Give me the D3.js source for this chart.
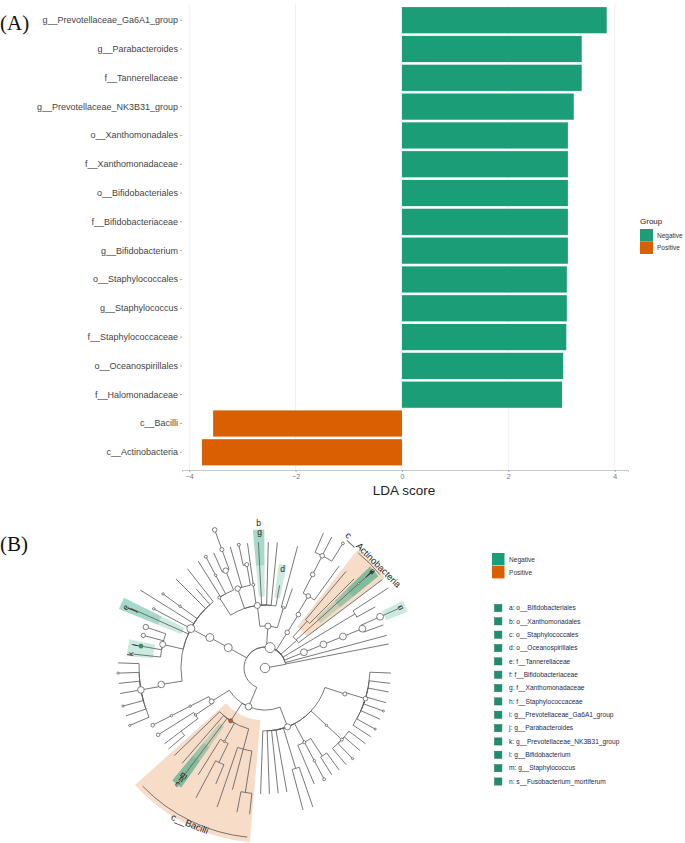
<!DOCTYPE html>
<meta charset="utf-8">
<style>
body { margin: 0; background: #fff; }
text { font-family: "Liberation Sans", Arial, sans-serif; }
.panel { font-family: "Liberation Serif", Times, serif; font-size: 21px; fill: #111; }
.tree path { fill: none; stroke: #606060; stroke-width: 0.85; }
.tree circle { stroke: #606060; stroke-width: 0.8; }
</style>
<svg width="685" height="843"></svg>
<script src="https://d3js.org/d3.v7.min.js"></script>
<script>
// bar chart values
var taxa = ["g__Prevotellaceae_Ga6A1_group", "g__Parabacteroides", "f__Tannerellaceae", "g__Prevotellaceae_NK3B31_group",
  "o__Xanthomonadales", "f__Xanthomonadaceae", "o__Bifidobacteriales", "f__Bifidobacteriaceae", "g__Bifidobacterium",
  "o__Staphylococcales", "g__Staphylococcus", "f__Staphylococcaceae", "o__Oceanospirillales", "f__Halomonadaceae",
  "c__Bacilli", "c__Actinobacteria"];
var ldaScores = [3.85, 3.38, 3.38, 3.23, 3.12, 3.12, 3.12, 3.12, 3.12, 3.10, 3.10, 3.09, 3.03, 3.01, -3.55, -3.76];
var xTicks = [-4, -2, 0, 2, 4];
var groups = ["Negative", "Positive"];
var groupColors = ["#1b9e77", "#d95f02"];

var biomarkers = ["a: o__Bifidobacteriales", "b: o__Xanthomonadales", "c: o__Staphylococcales", "d: o__Oceanospirillales",
  "e: f__Tannerellaceae", "f: f__Bifidobacteriaceae", "g: f__Xanthomonadaceae", "h: f__Staphylococcaceae",
  "i: g__Prevotellaceae_Ga6A1_group", "j: g__Parabacteroides", "k: g__Prevotellaceae_NK3B31_group",
  "l: g__Bifidobacterium", "m: g__Staphylococcus", "n: s__Fusobacterium_mortiferum"];

// cladogram: id, parent, angle (deg clockwise from north), taxonomic level, node size
var cladeRows = [
  ["root", "", 80, 0, 4.7], ["k0", "root", 80, 1, 0], ["p", "root", 14, 1, 5],
  // left clade
  ["b2", "p", 299, 2, 4], ["b3", "b2", 299, 3, 4], ["b4", "b3", 298, 4, 4],
  ["b5a", "b4", 261, 5, 3.3], ["b6a", "b5a", 260, 6, 3.3],
  ["t272", "b6a", 272, 7, 0], ["t268", "b6a", 268, 7, 1.1], ["t264", "b6a", 264, 7, 0], ["t260", "b6a", 260, 7, 0],
  ["t255", "b6a", 255, 7, 1.1], ["t251", "b6a", 251, 7, 0], ["t247", "b6a", 247, 7, 1.1],
  ["b5k", "b4", 283, 5, 3], ["k", "b5k", 276, 6.3, 0], ["l", "b5k", 280, 6, 2], ["l2", "l", 280, 6.4, 0],
  ["t285", "b5k", 285, 6, 2.1], ["t289", "b5k", 289, 6, 2.7],
  ["e", "b4", 294, 7, 0], ["t298", "b4", 298, 6, 1.2], ["t302", "b4", 302, 7, 0],
  ["b5f", "b4", 306, 5, 1.2], ["t306", "b5f", 306, 6, 1.2], ["t315", "b4", 315, 6, 0], ["t319", "b4", 319, 5, 0], ["t322", "b4", 322, 6, 0],
  // top clade
  ["u2", "p", 4, 2, 3], ["u3", "u2", 353, 3, 3], ["u3b", "u2", 17, 3, 1.3],
  ["u4a", "u3", 327, 4, 1.5], ["t328", "u4a", 328, 6, 0], ["u5c", "u4a", 332, 5, 1.2], ["t332", "u5c", 332, 6, 1.5],
  ["u5d", "u4a", 338, 5, 2.7], ["t336", "u5d", 336, 6, 0], ["u6e", "u5d", 340, 6, 2], ["t340", "u6e", 340, 7, 2.3],
  ["u4b", "u3", 341, 4, 2.7], ["t344", "u4b", 344, 6, 0], ["u5f", "u4b", 350, 5, 2], ["t349", "u5f", 348, 6, 1.5],
  ["u4c", "u3", 352, 4, 1.5], ["t353", "u4c", 352, 6, 0],
  ["bg", "u3", 357, 6, 0], ["t1", "u3", 1.5, 6, 0], ["t5", "u3", 5.6, 6, 0], ["d", "u3", 10, 4, 0],
  ["t15", "u3b", 15, 6, 0], ["t19", "u3b", 19, 4, 0],
  // right clade
  ["r2", "p", 32, 2, 2.3], ["r3", "r2", 32, 3, 2.3], ["r4", "r3", 31, 4, 2.3], ["r5", "r4", 27, 5, 2.3], ["r6", "r5", 27, 6, 2.3],
  ["t23", "r6", 23.4, 7, 0], ["t27", "r6", 27, 7, 0], ["t32", "r6", 32, 7, 1.4], ["t36", "r4", 36, 6, 0],
  ["a2", "p", 49, 2, 0], ["a3", "a2", 42, 3, 0], ["t40", "a3", 40, 6, 0], ["t45", "a3", 45, 6, 0],
  ["a6", "a2", 48, 6, 1], ["afl", "a6", 48, 6.8, 1], ["t53", "a2", 53, 7, 0],
  ["s5", "p", 59, 5, 0], ["t57", "s5", 57, 7, 0], ["t61", "s5", 61, 6, 0],
  ["w2", "p", 68, 2, 3.4], ["w3", "w2", 68, 3, 3.4], ["w4", "w3", 68, 4, 3.4], ["w5", "w4", 68, 5, 3.4], ["w6", "w5", 66, 6, 3.4],
  ["n", "w6", 66, 7, 1], ["t70", "w5", 70, 6, 0], ["t75", "p", 75, 6, 0], ["t79", "p", 79, 6, 0],
  // bottom clade
  ["f2", "p", 203, 2, 3.3],
  ["f3l", "f2", 238, 3, 2.5], ["c4", "f3l", 243, 4, 1.2], ["c5", "c4", 243, 5, 1.2], ["t243", "c5", 243, 6, 1.8],
  ["d4", "f3l", 236, 4, 1.2], ["t238", "d4", 238, 6, 1.8], ["d5", "d4", 233, 5, 0], ["t233", "d5", 233, 6, 0], ["t230", "d5", 230, 6, 0],
  ["g3", "f2", 213, 3, 2], ["t226", "g3", 226, 6, 0], ["t221", "g3", 221, 6, 0], ["cmh", "g3", 217, 7, 0],
  ["g4a", "g3", 209, 4, 1], ["t212", "g4a", 212, 6, 0], ["g5a", "g4a", 206, 5, 0], ["t208", "g5a", 208, 7, 0], ["t203", "g5a", 203, 6, 0],
  ["g4b", "g3", 195, 4, 0], ["t199", "g4b", 199, 7, 0], ["t195", "g4b", 195, 6, 0], ["g6", "g4b", 189, 6, 0], ["t191", "g6", 191, 7, 0], ["t186", "g6", 186, 7, 0],
  ["h3", "f2", 159, 3, 3], ["h4a", "h3", 108, 4, 2], ["h5a", "h4a", 107, 5, 2.3],
  ["t92", "h5a", 92.3, 6, 0], ["t97", "h5a", 97, 6, 0], ["t101", "h5a", 101, 6, 0], ["t106", "h5a", 106, 6, 0],
  ["t110", "h5a", 110, 6, 1], ["t114", "h5a", 114, 6, 0], ["t119", "h5a", 119, 6, 1], ["t123", "h5a", 123, 6, 0],
  ["h4b", "h3", 133, 4, 1.2], ["h5b", "h4b", 133, 5, 1.5], ["t127", "h5b", 127, 6, 0], ["t131", "h5b", 131, 6, 0], ["t136", "h5b", 136, 6, 1], ["t140", "h5b", 140, 6, 0],
  ["h4c", "h3", 152, 4, 1.5], ["t157", "h4c", 157, 6, 0], ["h5c", "h4c", 152, 5, 1.2], ["t152", "h5c", 152, 6, 1.5],
  ["h5d", "h4c", 147, 5, 0], ["t148", "h5d", 148, 6, 0], ["t144", "h5d", 144, 6, 0],
  ["h5e", "h3", 163, 5, 0], ["t161", "h5e", 161, 7, 0], ["t165", "h5e", 165, 7, 0],
  ["t170", "h3", 170, 6, 0], ["t174", "h3", 174, 6, 0], ["t178", "h3", 178, 6, 0], ["t182", "h3", 182, 6, 0]
];
var markedNodes = { l: "#1b9e77", g3: "#d95f02" };

// clade shading: start angle, end angle, inner level, outer level, group
var shades = [
  [185, 228, 2.5, 8.33, 1], [38, 53, 2.5, 7.15, 1],
  [46, 51, 3.4, 6.95, 0], [46, 51, 4.6, 6.95, 0], [46, 51, 5.4, 6.95, 0],
  [215, 219.5, 3.4, 6.95, 0], [215, 219.5, 4.6, 6.95, 0], [215, 219.5, 5.4, 6.95, 0],
  [355, 359.7, 3.4, 6.6, 0], [355, 359.7, 4.9, 6.6, 0], [7.5, 12, 3.4, 5, 0],
  [292, 296.5, 4.3, 7.5, 0], [292, 296.5, 5.5, 7.5, 0], [275, 282, 5.35, 6.6, 0], [64, 68.5, 6.2, 7.3, 0]
];
// bracket arcs round the two named classes: start, end, level
var classArcs = [[186, 226, 8.1], [39, 51, 7.05]];

// clade letters: text, angle, level, rotation
var cladeLabels = [
  ["b", 357.5, 6.9, 0], ["g", 357.7, 6.47, 0], ["d", 10, 4.8, 0],
  ["a", 48, 6.9, 48], ["f", 48, 6.75, 48], ["l", 48, 6.6, 48],
  ["e", 293.5, 7.25, -66], ["i", 293.6, 7.05, -66], ["j", 293.7, 6.85, -66],
  ["k", 276, 6.45, -84], ["l", 280, 6.3, -80], ["n", 66, 7.1, 66],
  ["c", 217, 6.9, 37], ["h", 217, 6.6, 37], ["m", 217, 6.4, 37]
];
var classLabels = [["c__Actinobacteria", 45, 7.29, 45], ["c__Bacilli", 205.7, 8.24, 22]];

var svg = d3.select("svg");

// ---- (A) LDA bars ----
var x = d3.scaleLinear().domain([-4.135, 4.25]).range([182, 628]);
var y = d3.scaleBand().domain(taxa).range([4.5, 468]).padding(0.09);

var grid = svg.append("g").selectAll("line").data(xTicks).enter().append("line")
  .attr("x1", function(d) { return x(d); })
  .attr("x2", function(d) { return x(d); })
  .attr("y1", 4).attr("y2", 470)
  .attr("stroke", "#eeeeee").attr("stroke-width", 0.8);

svg.append("g").selectAll("rect").data(taxa).enter().append("rect")
  .attr("x", function(d, i) { return x(Math.min(0, ldaScores[i])); })
  .attr("y", function(d) { return y(d); })
  .attr("width", function(d, i) { return Math.abs(x(ldaScores[i]) - x(0)); })
  .attr("height", y.bandwidth())
  .attr("fill", function(d, i) { return ldaScores[i] > 0 ? groupColors[0] : groupColors[1]; });

var yAxis = svg.append("g").attr("transform", "translate(182,0)")
  .call(d3.axisLeft(y).tickSize(2).tickPadding(2));
yAxis.select(".domain").remove();
yAxis.selectAll("line").attr("stroke", "#aaa");
yAxis.selectAll("text").style("font-size", "9px").style("font-family", "Liberation Sans").attr("fill", "#444");

var xAxis = svg.append("g").attr("transform", "translate(0,470)")
  .call(d3.axisBottom(x).tickValues(xTicks).tickSize(2).tickPadding(2).tickFormat(d3.format("d")));
xAxis.select(".domain").attr("stroke", "#c8c8c8");
xAxis.selectAll("line").attr("stroke", "#aaa");
xAxis.selectAll("text").style("font-size", "7px").style("font-family", "Liberation Sans").attr("fill", "#777");

svg.append("text").attr("x", 404).attr("y", 495).attr("text-anchor", "middle")
  .attr("font-size", 13.5).attr("fill", "#222").text("LDA score");

svg.append("text").attr("x", 640).attr("y", 224).attr("font-size", 8).attr("fill", "#222").text("Group");
var legendA = d3.scaleBand().domain(groups).range([229, 254]);
svg.append("g").selectAll("rect").data(groups).enter().append("rect")
  .attr("x", 640).attr("y", function(d) { return legendA(d); })
  .attr("width", 13).attr("height", legendA.bandwidth())
  .attr("fill", function(d, i) { return groupColors[i]; });
svg.append("g").selectAll("text").data(groups).enter().append("text")
  .attr("x", 657).attr("y", function(d) { return legendA(d) + legendA.bandwidth() / 2 + 2.3; })
  .attr("font-size", 6.5).attr("fill", "#333").text(function(d) { return d; });

svg.append("text").attr("class", "panel").attr("x", 0).attr("y", 30).text("(A)");
svg.append("text").attr("class", "panel").attr("x", 0).attr("y", 551).text("(B)");

// ---- (B) cladogram ----
var cx = 265, cy = 668;
var radius = d3.scaleLinear().domain([0, 7]).range([0, 147]);
var toRad = d3.scaleLinear().domain([0, 360]).range([0, 2 * Math.PI]);

function polar(angle, level) {
  return [cx + radius(level) * Math.sin(toRad(angle)), cy - radius(level) * Math.cos(toRad(angle))];
}

var root = d3.stratify()
  .id(function(r) { return r[0]; })
  .parentId(function(r) { return r[1]; })(cladeRows);

var wedge = d3.arc();
var tree = svg.append("g").attr("class", "tree");

tree.append("g").attr("transform", "translate(" + cx + "," + cy + ")")
  .selectAll("path").data(shades).enter().append("path")
  .style("stroke", "none")
  .style("fill", function(d) { return d[4] ? "#f7dcc8" : "#1b9e77"; })
  .style("fill-opacity", function(d) { return d[4] ? 1 : 0.22; })
  .attr("d", function(d) {
    return wedge({ innerRadius: radius(d[2]), outerRadius: radius(d[3]), startAngle: toRad(d[0]), endAngle: toRad(d[1]) });
  });

// arc along the parent's ring, then straight out to the child
function linkPath(l) {
  var a0 = l.source.data[2], a1 = l.target.data[2];
  var r0 = radius(l.source.data[3]);
  var diff = ((a1 - a0 + 540) % 360) - 180;
  var p = d3.path();
  var start = polar(a0, l.source.data[3]);
  p.moveTo(start[0], start[1]);
  p.arc(cx, cy, r0, toRad(a0 - 90), toRad(a0 + diff - 90), diff < 0);
  var end = polar(a1, l.target.data[3]);
  p.lineTo(end[0], end[1]);
  return p.toString();
}

tree.append("g").selectAll("path")
  .data(root.links().filter(function(l) { return l.source.depth > 0 || l.target.data[4] === 0; }))
  .enter().append("path").attr("d", linkPath);

tree.append("g").selectAll("path").data(classArcs).enter().append("path")
  .attr("d", function(d) {
    var p = d3.path(), s = polar(d[0], d[2]);
    p.moveTo(s[0], s[1]);
    p.arc(cx, cy, radius(d[2]), toRad(d[0] - 90), toRad(d[1] - 90), false);
    return p.toString();
  });

tree.append("g").selectAll("circle")
  .data(root.descendants().filter(function(n) { return n.data[4] > 0; }))
  .enter().append("circle")
  .attr("cx", function(n) { return polar(n.data[2], n.data[3])[0]; })
  .attr("cy", function(n) { return polar(n.data[2], n.data[3])[1]; })
  .attr("r", function(n) { return n.data[4]; })
  .attr("fill", function(n) { return markedNodes[n.id] || "#fff"; });

function placeLabel(d) {
  var p = polar(d[1], d[2]);
  return "translate(" + p[0] + "," + p[1] + ") rotate(" + d[3] + ")";
}

svg.append("g").selectAll("text").data(cladeLabels).enter().append("text")
  .attr("transform", placeLabel)
  .attr("text-anchor", "middle").attr("dy", "0.35em")
  .attr("font-size", 8.5).attr("fill", "#222")
  .text(function(d) { return d[0]; });

svg.append("g").selectAll("text").data(classLabels).enter().append("text")
  .attr("transform", placeLabel)
  .attr("text-anchor", "middle").attr("dy", "0.35em")
  .attr("font-size", 9.3).attr("fill", "#222")
  .text(function(d) { return d[0]; });

// legends beside the cladogram
var legendB = d3.scaleBand().domain(groups).range([553, 579]);
svg.append("g").selectAll("rect").data(groups).enter().append("rect")
  .attr("x", 492).attr("y", function(d) { return legendB(d); })
  .attr("width", 12.5).attr("height", legendB.bandwidth() - 0.6)
  .attr("fill", function(d, i) { return groupColors[i]; });
svg.append("g").selectAll("text").data(groups).enter().append("text")
  .attr("x", 509).attr("y", function(d) { return legendB(d) + legendB.bandwidth() / 2 + 2.2; })
  .attr("font-size", 6.6).attr("fill", "#333").text(function(d) { return d; });

var legendRows = d3.scalePoint().domain(biomarkers).range([608, 781.5]);
svg.append("g").selectAll("rect").data(biomarkers).enter().append("rect")
  .attr("x", 494.5).attr("y", function(d) { return legendRows(d) - 3.6; })
  .attr("width", 7.4).attr("height", 7.2)
  .attr("fill", "#1b8f70").attr("stroke", "#2d6b5c").attr("stroke-width", 0.5);
svg.append("g").selectAll("text").data(biomarkers).enter().append("text")
  .attr("x", 509).attr("y", function(d) { return legendRows(d) + 2.3; })
  .attr("font-size", 6.6).attr("fill", "#1c2c4c").text(function(d) { return d; });
</script>
